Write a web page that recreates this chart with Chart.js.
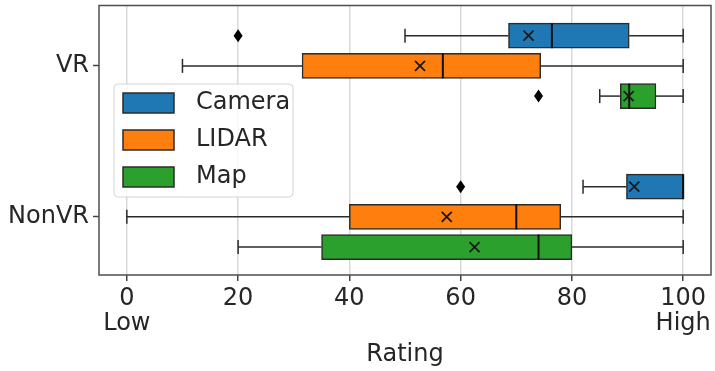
<!DOCTYPE html>
<html>
<head>
<meta charset="utf-8">
<script src="https://cdn.jsdelivr.net/npm/chart.js@4.4.0/dist/chart.umd.min.js"></script>
<style>
  html, body { margin: 0; padding: 0; background: #fff; }
  #wrap { width: 715px; height: 371px; }
</style>
</head>
<body>
<div id="wrap"><canvas id="c"></canvas></div>
<script>
// Rating distributions per sensor, split by VR / NonVR condition
const CATEGORIES = ['VR', 'NonVR'];
const SERIES = ['Camera', 'LIDAR', 'Map'];
const COLORS = ['#1f77b4', '#ff7f0e', '#2ca02c'];

// [low whisker, Q1, median, Q3, high whisker] for each category
const CAMERA_BOX = [[50, 68.6, 76.4, 90.3, 100], [82, 89.8, 100, 100, 100]];
const LIDAR_BOX  = [[10, 31.5, 56.8, 74.4, 100], [0, 40, 70, 78, 100]];
const MAP_BOX    = [[85, 88.7, 90.3, 95.1, 100], [20, 35, 74, 80, 100]];

const CAMERA_MEAN = [72.2, 91.2];
const LIDAR_MEAN  = [52.7, 57.5];
const MAP_MEAN    = [90.2, 62.5];

const CAMERA_OUTLIERS = [[20], [60]];
const LIDAR_OUTLIERS  = [[], []];
const MAP_OUTLIERS    = [[74], []];

const X_TICKS = [0, 20, 40, 60, 80, 100];
const X_TICK_LABELS = [['0', 'Low'], '20', '40', '60', '80', ['100', 'High']];

const BOXES = [CAMERA_BOX, LIDAR_BOX, MAP_BOX];
const MEANS = [CAMERA_MEAN, LIDAR_MEAN, MAP_MEAN];
const OUTLIERS = [CAMERA_OUTLIERS, LIDAR_OUTLIERS, MAP_OUTLIERS];

// styling
const EDGE = '#2b2b2b';
const TEXT = '#262626';
const FONT_SIZE = 24;
const BOX_THICK = 25;
const CAP_HALF = 7;
const HUE_STEP = 0.2;

// categories sit at integer positions (first one on top), hues spread around them
const catPos = i => CATEGORIES.length - 1 - i;
const huePos = (i, s) => catPos(i) + ((SERIES.length - 1) / 2 - s) * HUE_STEP;

Chart.defaults.font.family = "'DejaVu Sans', sans-serif";
Chart.defaults.font.size = FONT_SIZE;
Chart.defaults.color = TEXT;

const datasets = SERIES.map((name, s) => ({
  label: name,
  backgroundColor: COLORS[s],
  borderColor: EDGE,
  borderWidth: 1.5,
  borderSkipped: false,
  barThickness: BOX_THICK,
  grouped: false,
  data: CATEGORIES.map((c, i) => ({ y: huePos(i, s), x: [BOXES[s][i][1], BOXES[s][i][3]] }))
}));

function line(ctx, x1, y1, x2, y2) {
  ctx.beginPath();
  ctx.moveTo(x1, y1);
  ctx.lineTo(x2, y2);
  ctx.stroke();
}

const boxExtras = {
  id: 'boxExtras',
  afterDatasetsDraw(chart) {
    const { ctx, scales: { x, y } } = chart;
    const px = v => x.getPixelForValue(v);
    ctx.save();
    SERIES.forEach((name, s) => {
      CATEGORIES.forEach((c, i) => {
        const [lo, q1, med, q3, hi] = BOXES[s][i];
        const yc = y.getPixelForValue(huePos(i, s));
        // whiskers and caps
        ctx.strokeStyle = EDGE;
        ctx.lineWidth = 1.5;
        line(ctx, px(lo), yc, px(q1), yc);
        line(ctx, px(q3), yc, px(hi), yc);
        line(ctx, px(lo), yc - CAP_HALF, px(lo), yc + CAP_HALF);
        line(ctx, px(hi), yc - CAP_HALF, px(hi), yc + CAP_HALF);
        // median
        ctx.strokeStyle = '#111';
        ctx.lineWidth = 2;
        line(ctx, px(med), yc - BOX_THICK / 2, px(med), yc + BOX_THICK / 2);
        // mean marker
        const mx = px(MEANS[s][i]);
        ctx.strokeStyle = '#1a1a1a';
        ctx.lineWidth = 1.8;
        line(ctx, mx - 5, yc - 5, mx + 5, yc + 5);
        line(ctx, mx - 5, yc + 5, mx + 5, yc - 5);
        // outliers as thin diamonds
        ctx.fillStyle = '#000';
        OUTLIERS[s][i].forEach(v => {
          const ox = px(v);
          ctx.beginPath();
          ctx.moveTo(ox, yc - 6.5);
          ctx.lineTo(ox + 4.5, yc);
          ctx.lineTo(ox, yc + 6.5);
          ctx.lineTo(ox - 4.5, yc);
          ctx.closePath();
          ctx.fill();
        });
      });
    });
    ctx.restore();
  },
  afterDraw(chart) {
    const { ctx, chartArea: a } = chart;
    ctx.save();
    // axes frame
    ctx.strokeStyle = '#4d4d4d';
    ctx.lineWidth = 1.5;
    ctx.strokeRect(a.left, a.top, a.right - a.left, a.bottom - a.top);

    // legend
    const lx = a.left + 15, ly = a.top + 78.5, lw = 179, lh = 113;
    ctx.beginPath();
    ctx.roundRect(lx, ly, lw, lh, 4);
    ctx.fillStyle = 'rgba(255,255,255,0.85)';
    ctx.fill();
    ctx.strokeStyle = '#d4d4d4';
    ctx.lineWidth = 1;
    ctx.stroke();
    ctx.font = FONT_SIZE + "px 'DejaVu Sans', sans-serif";
    ctx.textBaseline = 'middle';
    ctx.textAlign = 'left';
    SERIES.forEach((name, s) => {
      const sy = ly + 9 + s * 37;
      ctx.fillStyle = COLORS[s];
      ctx.fillRect(lx + 9, sy, 51, 20);
      ctx.strokeStyle = EDGE;
      ctx.lineWidth = 1.5;
      ctx.strokeRect(lx + 9, sy, 51, 20);
      ctx.fillStyle = TEXT;
      ctx.fillText(name, lx + 82, sy + 10);
    });
    ctx.restore();
  }
};

new Chart(document.getElementById('c'), {
  type: 'bar',
  data: { datasets },
  options: {
    indexAxis: 'y',
    responsive: true,
    maintainAspectRatio: false,
    animation: false,
    layout: { padding: { left: 0, right: 4, top: 5.5, bottom: 0 } },
    plugins: { legend: { display: false }, tooltip: { enabled: false } },
    scales: {
      x: {
        type: 'linear',
        position: 'bottom',
        min: -5,
        max: 105,
        offset: false,
        afterBuildTicks: s => { s.ticks = X_TICKS.map(v => ({ value: v })); },
        afterFit: s => { s.height = 96; s.paddingLeft = 0; s.paddingRight = 0; },
        ticks: {
          padding: 5,
          maxRotation: 0,
          autoSkip: false,
          font: { size: FONT_SIZE, lineHeight: 1.05 },
          callback: (v) => X_TICK_LABELS[X_TICKS.indexOf(v)]
        },
        grid: { offset: false, color: '#d9d9d9', lineWidth: 1.5, tickColor: '#444', tickLength: 6, tickWidth: 1.5 },
        border: { display: false },
        title: { display: true, text: 'Rating', font: { size: FONT_SIZE }, padding: { top: 4, bottom: 1.5 } }
      },
      y: {
        type: 'linear',
        position: 'left',
        min: -0.385,
        max: 1.40,
        offset: false,
        bounds: 'data',
        afterBuildTicks: s => { s.ticks = CATEGORIES.map((c, i) => ({ value: catPos(i) })); },
        afterFit: s => { s.width = 99; s.paddingTop = 0; s.paddingBottom = 0; },
        ticks: {
          padding: 4,
          autoSkip: false,
          font: { size: FONT_SIZE },
          callback: v => CATEGORIES[CATEGORIES.length - 1 - v]
        },
        grid: { offset: false, drawOnChartArea: false, tickColor: '#444', tickLength: 6, tickWidth: 1.5 },
        border: { display: false }
      }
    }
  },
  plugins: [boxExtras]
});
</script>
</body>
</html>
